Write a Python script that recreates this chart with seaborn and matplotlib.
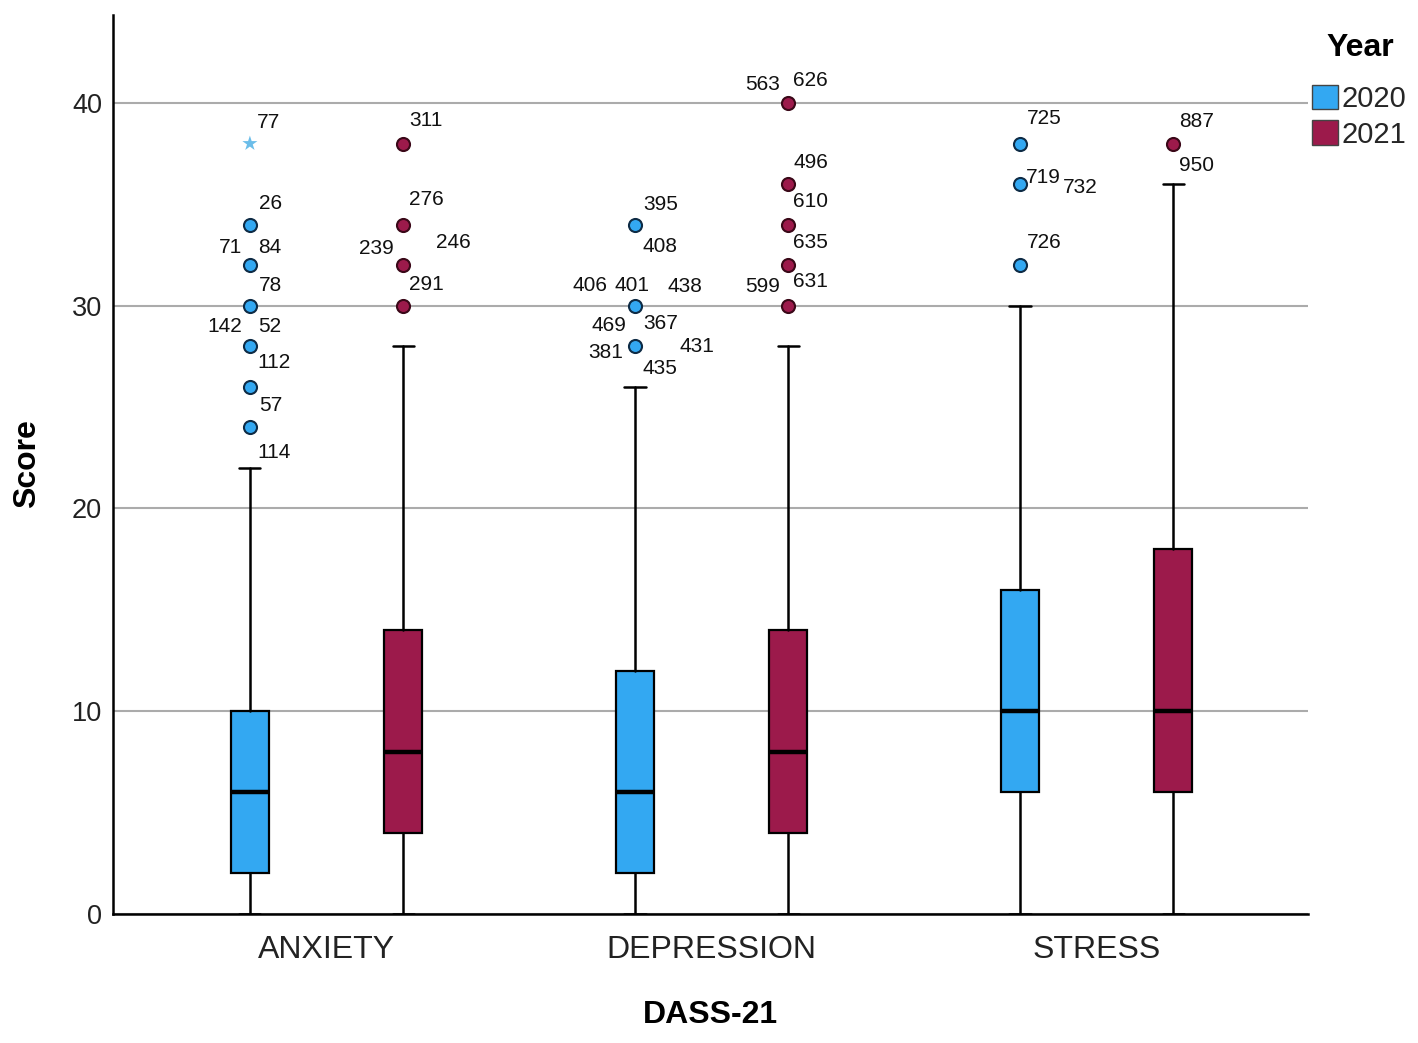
import numpy as np
import pandas as pd
import matplotlib
matplotlib.use("Agg")
import matplotlib.pyplot as plt
import seaborn as sns
from matplotlib.patches import Patch

# ---------------- data ----------------
categories = ["ANXIETY", "DEPRESSION", "STRESS"]
years = ["2020", "2021"]

box_category = ["ANXIETY", "ANXIETY", "DEPRESSION", "DEPRESSION", "STRESS", "STRESS"]
box_year = ["2020", "2021", "2020", "2021", "2020", "2021"]
whisker_low = [0, 0, 0, 0, 0, 0]
q1 = [2, 4, 2, 4, 6, 6]
median = [6, 8, 6, 8, 10, 10]
q3 = [10, 14, 12, 14, 16, 18]
whisker_high = [22, 28, 26, 28, 30, 36]

out_category = (["ANXIETY"] * 7 + ["ANXIETY"] * 4 + ["DEPRESSION"] * 3
                + ["DEPRESSION"] * 5 + ["STRESS"] * 3 + ["STRESS"] * 1)
out_year = (["2020"] * 7 + ["2021"] * 4 + ["2020"] * 3
            + ["2021"] * 5 + ["2020"] * 3 + ["2021"] * 1)
out_value = ([24, 26, 28, 30, 32, 34, 38] + [30, 32, 34, 38] + [28, 30, 34]
             + [30, 32, 34, 36, 40] + [32, 36, 38] + [38])
out_kind = (["outlier"] * 6 + ["extreme"] + ["outlier"] * 4 + ["outlier"] * 3
            + ["outlier"] * 5 + ["outlier"] * 3 + ["outlier"])

# case-id labels attached to outliers
lab_category = (["ANXIETY"] * 10 + ["ANXIETY"] * 5 + ["DEPRESSION"] * 10
                + ["DEPRESSION"] * 7 + ["STRESS"] * 4 + ["STRESS"] * 2)
lab_year = (["2020"] * 10 + ["2021"] * 5 + ["2020"] * 10
            + ["2021"] * 7 + ["2020"] * 4 + ["2021"] * 2)
lab_value = ([38, 34, 32, 32, 30, 28, 28, 26, 24, 24]
             + [38, 34, 32, 32, 30]
             + [34, 34, 30, 30, 30, 28, 28, 28, 28, 28]
             + [40, 40, 36, 34, 32, 30, 30]
             + [38, 36, 36, 32]
             + [38, 38])
lab_text = (["77", "26", "71", "84", "78", "142", "52", "112", "57", "114"]
            + ["311", "276", "239", "246", "291"]
            + ["395", "408", "406", "401", "438", "469", "367", "381", "431", "435"]
            + ["563", "626", "496", "610", "635", "599", "631"]
            + ["725", "719", "732", "726"]
            + ["887", "950"])

# ---------------- layout (label offsets in pixels) ----------------
lab_dx = ([7, 9, -8, 8, 9, -8, 8, 7, 9, 7]
          + [6, 6, -9, 33, 6]
          + [8, 8, -27, -20, 33, -9, 8, -12, 45, 8]
          + [-8, 5, 5, 5, 5, -8, 5]
          + [7, 6, 43, 7]
          + [6, 6])
lab_dy = ([21, 21, 18, 18, 20, 20, 20, 24, 22, -25]
          + [23, 25, 17, 23, 21]
          + [20, -22, 20, 20, 19, 21, 23, -6, 0, -22]
          + [18, 22, 22, 23, 23, 19, 24]
          + [25, 7, -3, 23]
          + [22, -22])
lab_ha = (["left", "left", "right", "left", "left", "right", "left", "left", "left", "left"]
          + ["left", "left", "right", "left", "left"]
          + ["left", "left", "right", "left", "left", "right", "left", "right", "left", "left"]
          + ["right", "left", "left", "left", "left", "right", "left"]
          + ["left", "left", "left", "left"]
          + ["left", "left"])

palette = {"2020": "#33A8F2", "2021": "#9C1A4B"}
edge_col = {"2020": "#0E2B45", "2021": "#3A0818"}
dodge = {"2020": -0.199, "2021": 0.199}
cat_index = {c: i for i, c in enumerate(categories)}

# ---------------- plotting ----------------
sns.set_theme(style="white")
plt.rcParams["font.family"] = ["Liberation Sans", "DejaVu Sans"]

W, H = 1418, 1043
fig = plt.figure(figsize=(W / 100, H / 100), dpi=100)
ax = fig.add_axes([113 / W, 1 - 914 / H, (1308 - 113) / W, (914 - 15) / H])

positions = [cat_index[c] + dodge[y] for c, y in zip(box_category, box_year)]
stats = []
for i in range(len(box_category)):
    stats.append(dict(med=median[i], q1=q1[i], q3=q3[i],
                      whislo=whisker_low[i], whishi=whisker_high[i],
                      fliers=[], label=f"{box_category[i]} {box_year[i]}"))

bp = ax.bxp(stats, positions=positions, widths=0.0987, capwidths=0.055,
            patch_artist=True, showfliers=False, manage_ticks=False,
            boxprops=dict(edgecolor="black", linewidth=1.6),
            medianprops=dict(color="black", linewidth=3.2, solid_capstyle="butt"),
            whiskerprops=dict(color="black", linewidth=1.8),
            capprops=dict(color="black", linewidth=1.8))
for patch, yr in zip(bp["boxes"], box_year):
    patch.set_facecolor(palette[yr])
for artist_list in bp.values():
    for a in artist_list:
        a.set_zorder(3)
for m in bp["medians"]:
    m.set_zorder(4)

df_out = pd.DataFrame({"Category": out_category, "Year": out_year,
                       "Score": out_value, "Kind": out_kind})
df_out["x"] = [cat_index[c] + dodge[y] for c, y in zip(df_out.Category, df_out.Year)]

for yr in years:
    sub = df_out[(df_out.Kind == "outlier") & (df_out.Year == yr)]
    sns.scatterplot(data=sub, x="x", y="Score", color=palette[yr], s=88,
                    edgecolor=edge_col[yr], linewidth=1.5, legend=False,
                    ax=ax, zorder=6)
ext = df_out[df_out.Kind == "extreme"]
sns.scatterplot(data=ext, x="x", y="Score", color="#6BBDE9", marker="*", s=130,
                edgecolor="none", linewidth=0, legend=False, ax=ax, zorder=6)

for c, yr, v, t, dx, dy, ha in zip(lab_category, lab_year, lab_value, lab_text,
                                     lab_dx, lab_dy, lab_ha):
    ax.annotate(t, xy=(cat_index[c] + dodge[yr], v), xytext=(dx, dy),
                textcoords="offset pixels", ha=ha, va="center",
                fontsize=15, color="#111111", zorder=7)

ax.set_xlim(-0.5545, 2.549)
ax.set_ylim(0, 44.34)
ax.set_xticks(range(len(categories)))
ax.set_xticklabels(categories)
ax.set_yticks([0, 10, 20, 30, 40])
ax.tick_params(axis="x", length=0, pad=15, labelsize=23, labelcolor="#222222")
ax.tick_params(axis="y", length=0, pad=8, labelsize=19.5, labelcolor="#222222")
ax.set_xlabel("")
ax.set_ylabel("")
ax.set_axisbelow(True)
ax.yaxis.grid(True, color="#ABABAB", linewidth=1.5)
ax.xaxis.grid(False)
for s in ["top", "right"]:
    ax.spines[s].set_visible(False)
for s in ["left", "bottom"]:
    ax.spines[s].set_color("black")
    ax.spines[s].set_linewidth(1.8)
    ax.spines[s].set_zorder(5)

fig.text(27 / W, 1 - 464 / H, "Score", rotation=90, ha="center", va="center",
         fontsize=23, fontweight="bold", color="black")
fig.text(710 / W, 1 - 1015 / H, "DASS-21", ha="center", va="center",
         fontsize=23, fontweight="bold", color="black")

# legend
fig.text(1360 / W, 1 - 48 / H, "Year", ha="center", va="center",
         fontsize=23, fontweight="bold", color="black")
handles = [Patch(facecolor=palette[y], edgecolor="#444444", linewidth=1.0) for y in years]
leg = fig.legend(handles, years, loc="upper left",
                 bbox_to_anchor=(1312 / W, 1 - 85 / H), frameon=False,
                 fontsize=21,
                 handlelength=0.9, handleheight=0.9, handletextpad=0.1,
                 labelspacing=0.25, borderpad=0, borderaxespad=0)

fig.savefig("out.png", dpi=100, facecolor="white")
